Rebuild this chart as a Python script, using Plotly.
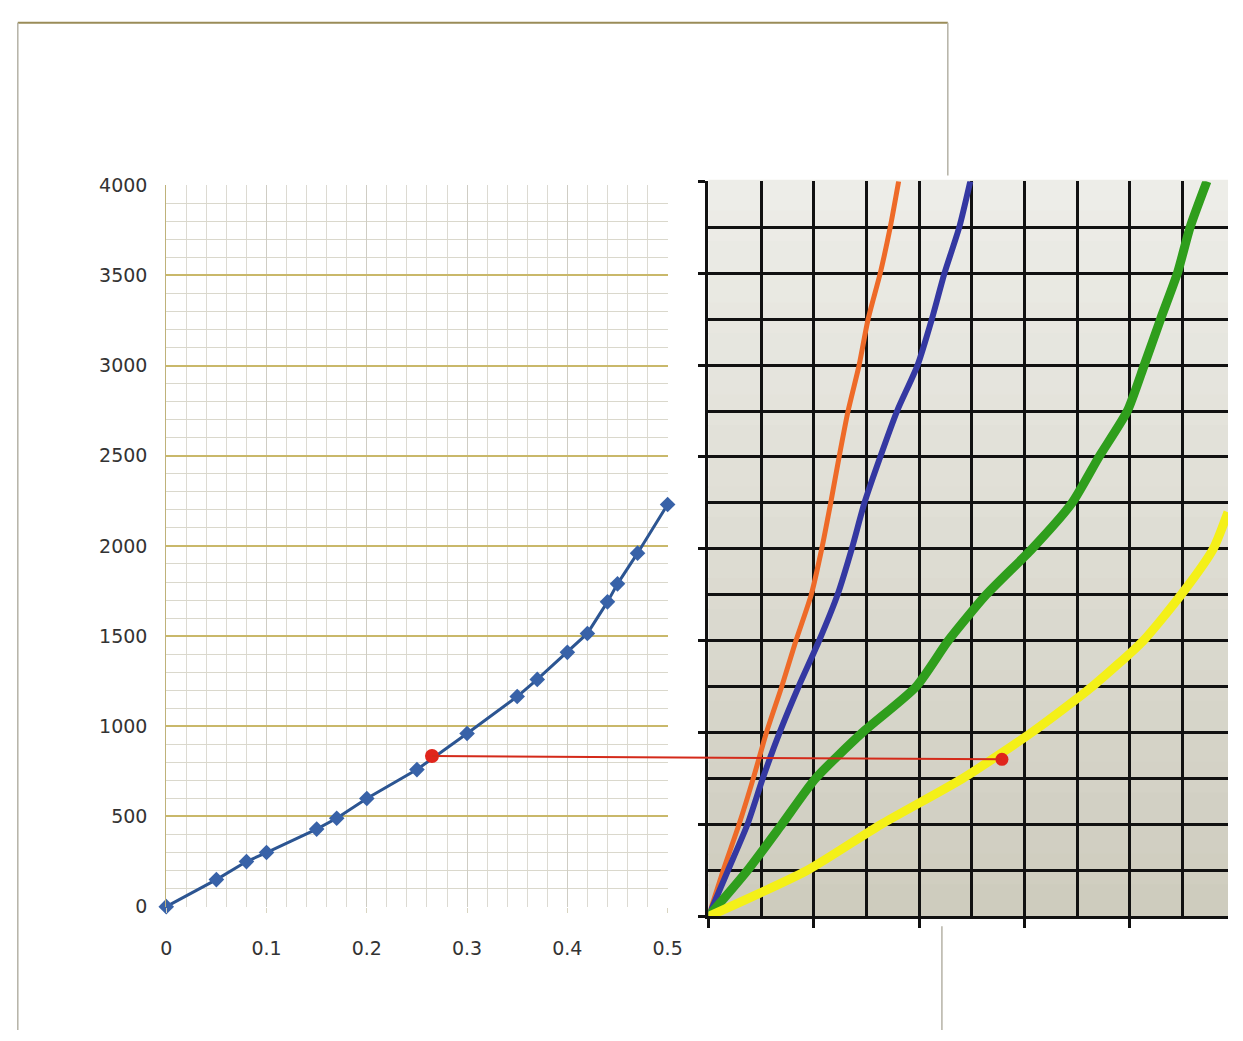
import plotly.graph_objects as go

# ---------------- data ----------------
# left chart: load vs ratio
left_x = [0, 0.05, 0.08, 0.10, 0.15, 0.17, 0.20, 0.25, 0.30, 0.35, 0.37, 0.40, 0.42, 0.44, 0.45, 0.47, 0.50]
left_y = [0, 150, 250, 300, 430, 490, 600, 760, 960, 1165, 1260, 1410, 1515, 1690, 1790, 1960, 2230]
left_xticks = [0, 0.1, 0.2, 0.3, 0.4, 0.5]
left_yticks = [0, 500, 1000, 1500, 2000, 2500, 3000, 3500, 4000]

# right chart: curves on grid paper (x in grid cells, y in same load units)
right_levels = [0, 250, 500, 750, 1000, 1250, 1500, 1750, 2000, 2250, 2500, 2750, 3000, 3250, 3500, 3750, 4000]
orange_x = [0, 0.28, 0.58, 0.85, 1.10, 1.39, 1.66, 1.95, 2.15, 2.32, 2.48, 2.65, 2.86, 3.03, 3.26, 3.45, 3.61]
blue_x = [0, 0.37, 0.74, 1.03, 1.35, 1.71, 2.10, 2.45, 2.72, 2.96, 3.26, 3.58, 3.97, 4.24, 4.48, 4.76, 4.97]
green_x = [0, 0.74, 1.39, 2.03, 2.92, 3.94, 4.55, 5.27, 6.14, 6.90, 7.41, 7.95, 8.27, 8.58, 8.90, 9.14, 9.46]
yellow_x = [0, 1.87, 3.27, 4.82, 6.13, 7.28, 8.25, 8.97, 9.58, 9.86]
yellow_y = [0, 250, 500, 750, 1000, 1250, 1500, 1750, 2000, 2200]

# reading point (red)
read_left = (0.265, 835)
read_right = (5.57, 855)

# ---------------- layout geometry (reference pixels -> paper fractions) ----------------
W, H = 1243, 1041
L_DOM_X = [163 / W, 673 / W]
L_DOM_Y = [1 - 915 / H, 1 - 178 / H]
R_DOM_X = [714.5 / W, 1.0]
R_DOM_Y = [1 - 925 / H, 1 - 174 / H]
L_XR = [0, 0.5]
L_YR = [0, 4000]
R_XR = [0, 9.86]
R_YR = [0, 4000]

font_tick = dict(family="DejaVu Sans", size=19, color="#333333")

fig = go.Figure()

# left chart line
fig.add_trace(go.Scatter(
    x=left_x, y=left_y, mode="lines+markers",
    line=dict(color="#2c5592", width=3),
    marker=dict(symbol="diamond", size=12, color="#3862a8", line=dict(width=0)),
    cliponaxis=False, xaxis="x", yaxis="y", showlegend=False))
fig.add_trace(go.Scatter(
    x=[read_left[0]], y=[read_left[1]], mode="markers",
    marker=dict(size=14, color="#e0251c"), cliponaxis=False,
    xaxis="x", yaxis="y", showlegend=False))

# right chart curves
for xs, ys, col, w in [
    (orange_x, right_levels, "#ee6a28", 5),
    (blue_x, right_levels, "#3438a2", 6),
    (green_x, right_levels, "#2f9e1c", 9),
    (yellow_x, yellow_y, "#f4f018", 9),
]:
    fig.add_trace(go.Scatter(x=xs, y=ys, mode="lines",
                             line=dict(color=col, width=w, shape="spline", smoothing=0.6),
                             xaxis="x2", yaxis="y2", showlegend=False))
fig.add_trace(go.Scatter(
    x=[read_right[0]], y=[read_right[1]], mode="markers",
    marker=dict(size=13, color="#e0251c"), cliponaxis=False,
    xaxis="x2", yaxis="y2", showlegend=False))


def to_paper(pt, dx, dy, xr, yr):
    px = dx[0] + (pt[0] - xr[0]) / (xr[1] - xr[0]) * (dx[1] - dx[0])
    py = dy[0] + (pt[1] - yr[0]) / (yr[1] - yr[0]) * (dy[1] - dy[0])
    return px, py


p0 = to_paper(read_left, L_DOM_X, L_DOM_Y, L_XR, L_YR)
p1 = to_paper(read_right, R_DOM_X, R_DOM_Y, R_XR, R_YR)

shapes = []
# background gradient on grid paper
nb = 24
c_top = (238, 238, 233)
c_bot = (206, 204, 190)
for i in range(nb):
    t = (i + 0.5) / nb
    c = tuple(int(c_top[k] + (c_bot[k] - c_top[k]) * t) for k in range(3))
    shapes.append(dict(type="rect", xref="x2 domain", yref="y2 domain",
                       x0=0, x1=1, y0=1 - (i + 1) / nb, y1=1 - i / nb + 0.002,
                       fillcolor="rgb(%d,%d,%d)" % c, line=dict(width=0), layer="below"))
# red connecting line
shapes.append(dict(type="line", xref="paper", yref="paper", x0=p0[0], y0=p0[1], x1=p1[0], y1=p1[1],
                   line=dict(color="#d42a1a", width=2), layer="above"))
# page frame
shapes += [
    dict(type="line", xref="paper", yref="paper", x0=12 / W, x1=958 / W, y0=1 - 12 / H, y1=1 - 12 / H,
         line=dict(color="#9a8c58", width=2)),
    dict(type="line", xref="paper", yref="paper", x0=12 / W, x1=12 / W, y0=0, y1=1 - 12 / H,
         line=dict(color="#b5b2a6", width=1.5)),
    dict(type="line", xref="paper", yref="paper", x0=958 / W, x1=958 / W, y0=1 - 168 / H, y1=1 - 12 / H,
         line=dict(color="#b5b2a6", width=1.5)),
    dict(type="line", xref="paper", yref="paper", x0=952 / W, x1=952 / W, y0=0, y1=1 - 935 / H,
         line=dict(color="#b5b2a6", width=1.5)),
]

fig.update_layout(
    autosize=True,
    margin=dict(l=0, r=0, t=0, b=0, pad=0),
    paper_bgcolor="white", plot_bgcolor="rgba(0,0,0,0)",
    showlegend=False,
    shapes=shapes,
    xaxis=dict(domain=L_DOM_X, range=L_XR, tickvals=left_xticks, ticktext=[str(v) for v in left_xticks],
               showgrid=True, gridcolor="#cfcdc4", gridwidth=1,
               minor=dict(dtick=0.02, showgrid=True, gridcolor="#dcdad2", gridwidth=1),
               showline=False, zeroline=False, ticks="outside", ticklen=5, tickcolor="#d8d4c0",
               tickfont=font_tick, ticklabelstandoff=20, anchor="y", fixedrange=True),
    yaxis=dict(domain=L_DOM_Y, range=L_YR, tickvals=left_yticks,
               showgrid=True, gridcolor="#c9b86a", gridwidth=1.5,
               minor=dict(dtick=100, showgrid=True, gridcolor="#dad8cc", gridwidth=1),
               showline=True, linecolor="#bfb27a", linewidth=1, zeroline=False,
               ticks="", tickfont=font_tick, ticklabelstandoff=14, anchor="x", fixedrange=True),
    xaxis2=dict(domain=R_DOM_X, range=R_XR, dtick=2, tick0=0,
                showgrid=True, gridcolor="#111111", gridwidth=3,
                minor=dict(dtick=1, showgrid=True, gridcolor="#111111", gridwidth=3),
                showline=True, linecolor="#111111", linewidth=3, mirror=False, zeroline=False,
                ticks="outside", ticklen=9, tickwidth=2.5, tickcolor="#111111",
                showticklabels=False, anchor="y2", fixedrange=True),
    yaxis2=dict(domain=R_DOM_Y, range=R_YR, dtick=500, tick0=0,
                showgrid=True, gridcolor="#111111", gridwidth=3,
                minor=dict(dtick=250, showgrid=True, gridcolor="#111111", gridwidth=3),
                showline=True, linecolor="#111111", linewidth=3, mirror=False, zeroline=False,
                ticks="outside", ticklen=7, tickwidth=2.5, tickcolor="#111111",
                showticklabels=False, anchor="x2", fixedrange=True),
)

post = (
    "document.documentElement.style.margin='0';"
    "document.documentElement.style.height='100%';"
    "document.body.style.margin='0';"
    "document.body.style.height='100%';"
    "document.body.style.overflow='hidden';"
    "var gd=document.getElementById('{plot_id}');"
    "gd.style.width='100vw';gd.style.height='100vh';"
    "Plotly.Plots.resize(gd);"
)

fig.write_html("out.html", default_width="100vw", default_height="100vh",
               config={"displayModeBar": False, "responsive": True},
               post_script=post)
